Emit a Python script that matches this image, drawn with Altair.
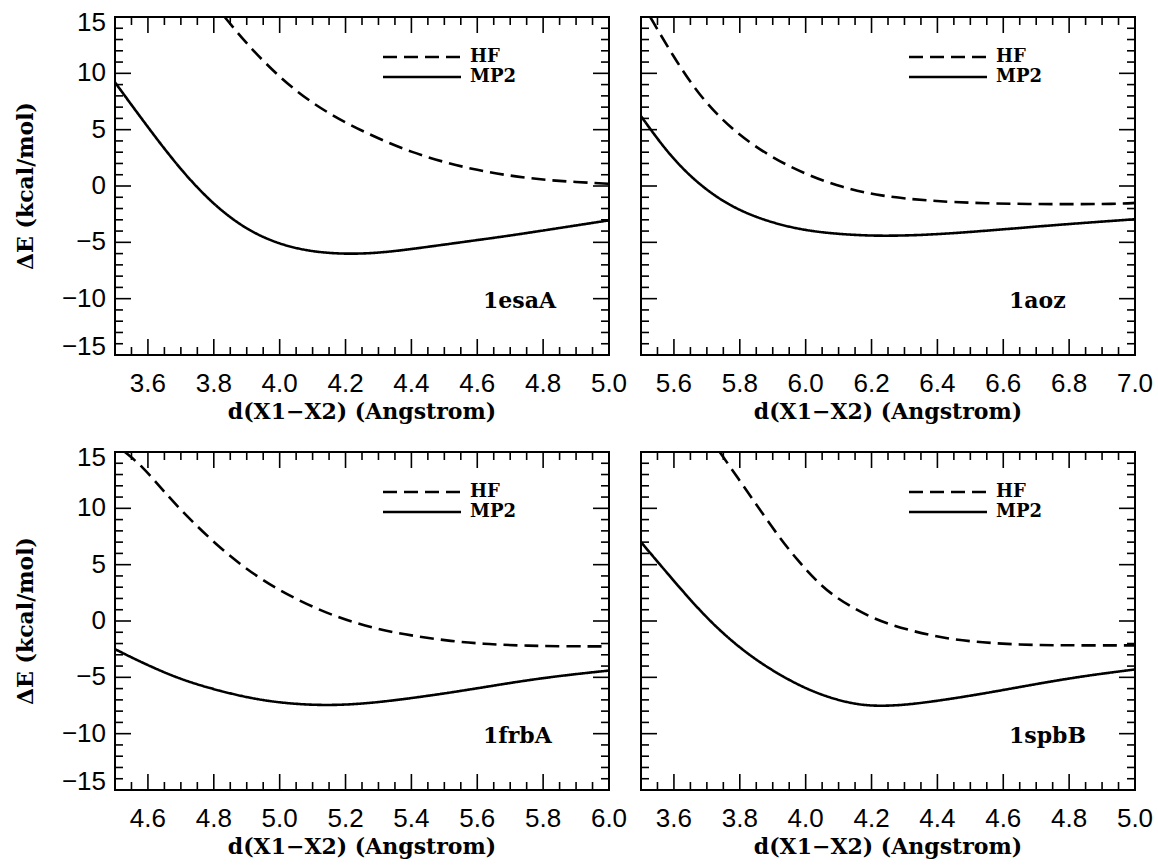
import altair as alt
import pandas as pd
import numpy as np

# ---------------- data ----------------
X_TITLE = "d(X1\u2212X2) (Angstrom)"
Y_TITLE = "\u0394E (kcal/mol)"
SERIES = ["HF", "MP2"]
Y_DOMAIN = [-15, 15]
Y_LABELS_MID = [-10, -5, 0, 5, 10]
Y_LABEL_TOP = [15]
Y_LABEL_BOTTOM = [-15]

p1_label = "1esaA"
p1_xdom = [3.5, 5.0]
p1_xlabels = [3.6, 3.8, 4.0, 4.2, 4.4, 4.6, 4.8, 5.0]
p1_hf_x = [3.833, 3.9, 4.0, 4.1, 4.2, 4.3, 4.4, 4.5, 4.6, 4.7, 4.8, 4.9, 5.0]
p1_hf_y = [15.0, 12.6, 9.6, 7.3, 5.6, 4.2, 3.0, 2.1, 1.4, 0.9, 0.55, 0.35, 0.2]
p1_mp2_x = [3.5, 3.6, 3.7, 3.8, 3.9, 4.0, 4.1, 4.2, 4.3, 4.4, 4.5, 4.6, 4.7, 4.8, 4.9, 5.0]
p1_mp2_y = [9.2, 5.2, 1.4, -1.7, -3.9, -5.2, -5.85, -6.05, -5.95, -5.6, -5.2, -4.8, -4.4, -3.95, -3.5, -3.05]

p2_label = "1aoz"
p2_xdom = [5.5, 7.0]
p2_xlabels = [5.6, 5.8, 6.0, 6.2, 6.4, 6.6, 6.8, 7.0]
p2_hf_x = [5.528, 5.596, 5.674, 5.775, 5.888, 6.0, 6.112, 6.225, 6.37, 6.54, 6.76, 6.95, 7.0]
p2_hf_y = [15.0, 11.6, 8.1, 5.0, 2.65, 1.03, -0.15, -0.88, -1.32, -1.56, -1.62, -1.6, -1.5]
p2_mp2_x = [5.5, 5.584, 5.674, 5.775, 5.888, 6.0, 6.112, 6.225, 6.37, 6.54, 6.76, 7.0]
p2_mp2_y = [6.2, 2.8, 0.15, -1.9, -3.2, -3.97, -4.3, -4.45, -4.35, -4.0, -3.45, -2.95]

p3_label = "1frbA"
p3_xdom = [4.5, 6.0]
p3_xlabels = [4.6, 4.8, 5.0, 5.2, 5.4, 5.6, 5.8, 6.0]
p3_hf_x = [4.53, 4.582, 4.64, 4.699, 4.816, 4.933, 5.05, 5.167, 5.284, 5.4, 5.52, 5.636, 5.753, 5.87, 6.0]
p3_hf_y = [15.0, 13.75, 11.8, 9.85, 6.5, 3.84, 1.9, 0.4, -0.66, -1.3, -1.8, -2.07, -2.2, -2.25, -2.25]
p3_mp2_x = [4.5, 4.582, 4.699, 4.816, 4.933, 5.05, 5.167, 5.284, 5.4, 5.52, 5.636, 5.753, 5.87, 6.0]
p3_mp2_y = [-2.5, -3.7, -5.2, -6.2, -7.0, -7.4, -7.5, -7.27, -6.85, -6.35, -5.8, -5.25, -4.8, -4.4]

p4_label = "1spbB"
p4_xdom = [3.5, 5.0]
p4_xlabels = [3.6, 3.8, 4.0, 4.2, 4.4, 4.6, 4.8, 5.0]
p4_hf_x = [3.739, 3.806, 3.863, 3.919, 3.975, 4.031, 4.087, 4.2, 4.313, 4.426, 4.538, 4.65, 4.763, 4.876, 5.0]
p4_hf_y = [15.0, 12.2, 9.8, 7.46, 5.4, 3.6, 2.13, 0.2, -0.83, -1.57, -1.92, -2.1, -2.16, -2.16, -2.16]
p4_mp2_x = [3.5, 3.581, 3.694, 3.806, 3.919, 4.031, 4.144, 4.223, 4.313, 4.426, 4.538, 4.65, 4.763, 4.876, 5.0]
p4_mp2_y = [7.0, 4.2, 0.36, -2.6, -4.8, -6.45, -7.4, -7.57, -7.43, -6.98, -6.45, -5.86, -5.27, -4.76, -4.3]

# ---------------- styling ----------------
W, H = 494, 338
MAJOR_LEN, MINOR_LEN = 16, 8
SERIF = "DejaVu Serif"
SANS = "Liberation Sans"
DASH = [14, 7]
LABEL_SIZE = 26


def rule_ticks(values, scale, orient, length):
    if orient in ("bottom", "top"):
        df = pd.DataFrame({"d": values})
        y0 = H if orient == "bottom" else 0
        y1 = H - length if orient == "bottom" else length
        return alt.Chart(df).mark_rule(color="black", strokeWidth=1.6).encode(
            x=alt.X("d:Q", scale=scale, axis=None), y=alt.value(y0), y2=alt.value(y1))
    df = pd.DataFrame({"E": values})
    x0 = 0 if orient == "left" else W
    x1 = length if orient == "left" else W - length
    return alt.Chart(df).mark_rule(color="black", strokeWidth=1.6).encode(
        y=alt.Y("E:Q", scale=scale, axis=None), x=alt.value(x0), x2=alt.value(x1))


def panel(label, xdom, xlabels, hf_x, hf_y, mp2_x, mp2_y, show_y):
    df = pd.concat([
        pd.DataFrame({"d": hf_x, "E": hf_y, "series": "HF"}),
        pd.DataFrame({"d": mp2_x, "E": mp2_y, "series": "MP2"}),
    ])
    xscale = alt.Scale(domain=xdom, nice=False, zero=False)
    yscale = alt.Scale(domain=Y_DOMAIN, nice=False, zero=False)

    lines = alt.Chart(df).mark_line(clip=True, color="black", strokeWidth=2.6,
                                    interpolate="basis").encode(
        x=alt.X("d:Q", scale=xscale, axis=None),
        y=alt.Y("E:Q", scale=yscale, axis=None),
        strokeDash=alt.StrokeDash("series:N",
                                  scale=alt.Scale(domain=SERIES, range=[DASH, [1, 0]]),
                                  legend=None),
        detail="series:N",
    )

    step = 0.05
    allx = np.round(np.arange(xdom[0], xdom[1] + 1e-9, step), 3)
    xmajor = [float(v) for v in allx if abs(round(v / 0.2) * 0.2 - v) < 1e-6]
    xminor = [float(v) for v in allx if float(v) not in xmajor]
    ally = list(range(-15, 16))
    ymajor = [v for v in ally if v % 5 == 0]
    yminor = [v for v in ally if v % 5 != 0]

    layers = [lines]
    for o in ("bottom", "top"):
        layers.append(rule_ticks(xmajor, xscale, o, MAJOR_LEN))
        layers.append(rule_ticks(xminor, xscale, o, MINOR_LEN))
    for o in ("left", "right"):
        layers.append(rule_ticks(ymajor, yscale, o, MAJOR_LEN))
        layers.append(rule_ticks(yminor, yscale, o, MINOR_LEN))

    # x tick labels and x title
    layers.append(alt.Chart(pd.DataFrame({"d": xlabels})).mark_text(
        font=SANS, fontSize=LABEL_SIZE, align="center", baseline="middle", color="black").encode(
        x=alt.X("d:Q", scale=xscale, axis=None), y=alt.value(H + 29),
        text=alt.Text("d:Q", format=".1f")))
    layers.append(alt.Chart(pd.DataFrame({"t": [X_TITLE]})).mark_text(
        font=SERIF, fontWeight="bold", fontSize=22, align="center", baseline="middle",
        color="black").encode(x=alt.value(W / 2), y=alt.value(H + 57), text="t:N"))

    if show_y:
        for vals, dy in ((Y_LABELS_MID, 0), (Y_LABEL_TOP, 6), (Y_LABEL_BOTTOM, -8)):
            layers.append(alt.Chart(pd.DataFrame({"E": vals})).mark_text(
                font=SANS, fontSize=LABEL_SIZE, align="right", baseline="middle",
                color="black", dy=dy).encode(
                y=alt.Y("E:Q", scale=yscale, axis=None), x=alt.value(-9),
                text=alt.Text("E:Q", format="d")))
        layers.append(alt.Chart(pd.DataFrame({"t": [Y_TITLE]})).mark_text(
            font=SERIF, fontWeight="bold", fontSize=22, align="center", baseline="middle",
            angle=270, color="black").encode(x=alt.value(-89), y=alt.value(H / 2), text="t:N"))

    leg_df = pd.DataFrame({"series": SERIES})
    layers.append(alt.Chart(leg_df.iloc[:1]).mark_rule(
        color="black", strokeWidth=2.4, strokeDash=DASH).encode(
        x=alt.value(268), x2=alt.value(346), y=alt.value(40)))
    layers.append(alt.Chart(leg_df.iloc[1:]).mark_rule(
        color="black", strokeWidth=2.4).encode(
        x=alt.value(268), x2=alt.value(346), y=alt.value(60)))
    layers.append(alt.Chart(leg_df.iloc[:1]).mark_text(
        font=SERIF, fontWeight="bold", fontSize=18, align="left", baseline="middle",
        color="black").encode(text="series:N", x=alt.value(355), y=alt.value(40)))
    layers.append(alt.Chart(leg_df.iloc[1:]).mark_text(
        font=SERIF, fontWeight="bold", fontSize=18, align="left", baseline="middle",
        color="black").encode(text="series:N", x=alt.value(355), y=alt.value(60)))

    layers.append(alt.Chart(pd.DataFrame({"name": [label]})).mark_text(
        font=SERIF, fontWeight="bold", fontSize=22, align="left", baseline="middle",
        color="black").encode(text="name:N", x=alt.value(368), y=alt.value(284)))

    return alt.layer(*layers).properties(width=W, height=H)


c1 = panel(p1_label, p1_xdom, p1_xlabels, p1_hf_x, p1_hf_y, p1_mp2_x, p1_mp2_y, True)
c2 = panel(p2_label, p2_xdom, p2_xlabels, p2_hf_x, p2_hf_y, p2_mp2_x, p2_mp2_y, False)
c3 = panel(p3_label, p3_xdom, p3_xlabels, p3_hf_x, p3_hf_y, p3_mp2_x, p3_mp2_y, True)
c4 = panel(p4_label, p4_xdom, p4_xlabels, p4_hf_x, p4_hf_y, p4_mp2_x, p4_mp2_y, False)

top = alt.hconcat(c1, c2, spacing=10)
bottom = alt.hconcat(c3, c4, spacing=10)
chart = alt.vconcat(top, bottom, spacing=20).properties(
    padding={"left": 14, "top": 9, "right": 0, "bottom": 0},
    background="white",
).configure_view(stroke="black", strokeWidth=2)

chart.save("out.html", embed_options={"renderer": "svg", "actions": False})
